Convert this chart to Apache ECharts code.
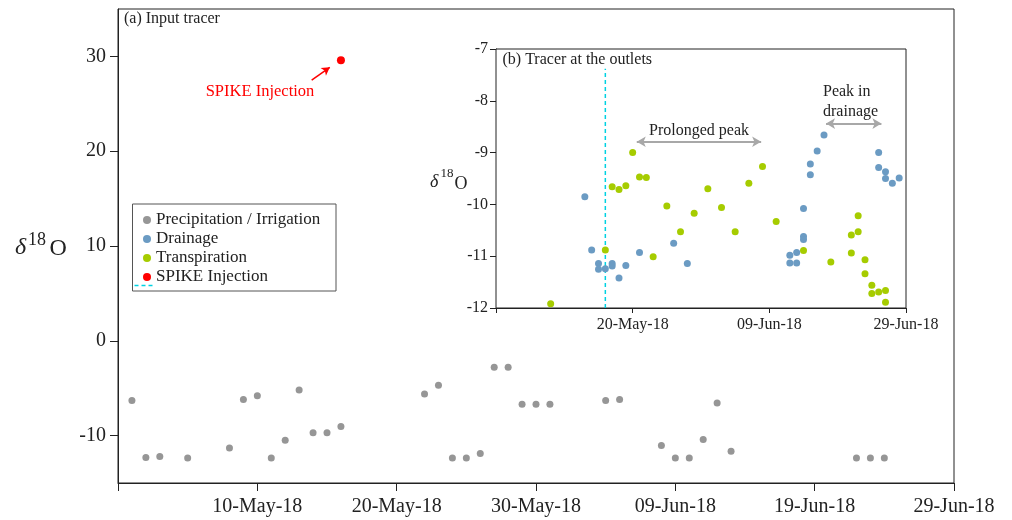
<!DOCTYPE html>
<html>
<head>
<meta charset="utf-8">
<script src="https://cdn.jsdelivr.net/npm/echarts@6/dist/echarts.min.js"></script>
<style>
  html, body { margin: 0; padding: 0; background: #fff; }
  #chart { width: 1012px; height: 520px; }
</style>
</head>
<body>
<div id="chart"></div>
<script>
// Day zero of both time axes
const startDate = '2018-04-30';

// Input tracer: precipitation / irrigation samples (delta 18O, permil)
const precipDates = [
  '2018-05-01','2018-05-02','2018-05-03','2018-05-05','2018-05-08','2018-05-09','2018-05-10',
  '2018-05-11','2018-05-12','2018-05-13','2018-05-14','2018-05-15','2018-05-16','2018-05-22',
  '2018-05-23','2018-05-24','2018-05-25','2018-05-26','2018-05-27','2018-05-28','2018-05-29',
  '2018-05-30','2018-05-31','2018-06-04','2018-06-05','2018-06-08','2018-06-09','2018-06-10',
  '2018-06-11','2018-06-12','2018-06-13','2018-06-22','2018-06-23','2018-06-24'
];
const precipValues = [
  -6.3, -12.3, -12.2, -12.35, -11.3, -6.2, -5.8,
  -12.35, -10.5, -5.2, -9.7, -9.7, -9.05, -5.6,
  -4.7, -12.35, -12.35, -11.9, -2.8, -2.8, -6.7,
  -6.7, -6.7, -6.3, -6.2, -11.05, -12.35, -12.35,
  -10.4, -6.55, -11.65, -12.35, -12.35, -12.35
];

// Labelled spike
const spikeDates = ['2018-05-16'];
const spikeValues = [29.6];

// Outlet tracer: drainage
const drainageDates = [
  '2018-05-13','2018-05-14','2018-05-15','2018-05-15','2018-05-16','2018-05-17','2018-05-17',
  '2018-05-18','2018-05-19','2018-05-21','2018-05-26','2018-05-28','2018-06-12','2018-06-12',
  '2018-06-13','2018-06-13','2018-06-14','2018-06-14','2018-06-14','2018-06-15','2018-06-15',
  '2018-06-16','2018-06-17','2018-06-25','2018-06-25','2018-06-26','2018-06-26','2018-06-27',
  '2018-06-28'
];
const drainageValues = [
  -9.85, -10.88, -11.14, -11.25, -11.24, -11.14, -11.19,
  -11.42, -11.18, -10.93, -10.75, -11.14, -10.98, -11.13,
  -10.93, -11.13, -10.08, -10.62, -10.68, -9.22, -9.43,
  -8.97, -8.66, -9.0, -9.29, -9.37, -9.5, -9.59,
  -9.49
];

// Outlet tracer: transpiration
const transpDates = [
  '2018-05-08','2018-05-16','2018-05-17','2018-05-18','2018-05-19','2018-05-20','2018-05-21',
  '2018-05-22','2018-05-23','2018-05-25','2018-05-27','2018-05-29','2018-05-31','2018-06-02',
  '2018-06-04','2018-06-06','2018-06-08','2018-06-10','2018-06-14','2018-06-18','2018-06-21',
  '2018-06-21','2018-06-22','2018-06-22','2018-06-23','2018-06-23','2018-06-24','2018-06-24',
  '2018-06-25','2018-06-26','2018-06-26'
];
const transpValues = [
  -11.92, -10.88, -9.66, -9.71, -9.64, -9.0, -9.47,
  -9.48, -11.01, -10.03, -10.53, -10.17, -9.7, -10.06,
  -10.53, -9.59, -9.27, -10.33, -10.89, -11.11, -10.59,
  -10.94, -10.22, -10.53, -11.07, -11.34, -11.56, -11.72,
  -11.69, -11.66, -11.89
];

// Axis settings
const dayRange = [0, 60];
const mainTickDays = 10;
const insetTickDays = 20;
const mainYTicks = [-10, 0, 10, 20, 30];
const mainYRange = [-15, 35];
const insetYRange = [-12, -7];
const monthNames = ['Jan','Feb','Mar','Apr','May','Jun','Jul','Aug','Sep','Oct','Nov','Dec'];

const legendNames = ['Precipitation / Irrigation', 'Drainage', 'Transpiration', 'SPIKE Injection'];

const FONT = '"Liberation Serif", "Times New Roman", serif';
const INK = '#222';
const CYAN = '#00d2e2';
const DAY_MS = 86400000;
const t0 = Date.parse(startDate + 'T00:00:00Z');

function dayOf(s) { return (Date.parse(s + 'T00:00:00Z') - t0) / DAY_MS; }
function pairs(dates, values) { return dates.map((d, i) => [dayOf(d), values[i]]); }
function dateLabel(v) {
  if (v === 0) return '';
  const d = new Date(t0 + v * DAY_MS);
  const dd = String(d.getUTCDate()).padStart(2, '0');
  return dd + '-' + monthNames[d.getUTCMonth()] + '-' + String(d.getUTCFullYear()).slice(2);
}

const spikeDay = dayOf(spikeDates[0]);

const chart = echarts.init(document.getElementById('chart'), null, { renderer: 'canvas' });

const axisLine = { show: true, onZero: false, lineStyle: { color: INK, width: 1 } };

const option = {
  animation: false,
  backgroundColor: '#fff',
  grid: [
    { left: 118, top: 9, width: 836, height: 474, show: true, borderColor: INK, borderWidth: 1,
      backgroundColor: 'transparent', outerBoundsMode: 'none', containLabel: false },
    { left: 496, top: 49, width: 410, height: 259, show: true, borderColor: INK, borderWidth: 1,
      backgroundColor: '#fff', outerBoundsMode: 'none', containLabel: false, z: 5 }
  ],
  xAxis: [
    { type: 'value', gridIndex: 0, min: dayRange[0], max: dayRange[1], interval: mainTickDays,
      axisLine, splitLine: { show: false },
      axisTick: { show: true, length: 8, lineStyle: { color: INK } },
      axisLabel: { margin: 14, fontFamily: FONT, fontSize: 20, color: INK, formatter: dateLabel,
                   showMinLabel: true, showMaxLabel: true } },
    { type: 'value', gridIndex: 1, min: dayRange[0], max: dayRange[1], interval: insetTickDays,
      axisLine, splitLine: { show: false },
      axisTick: { show: true, length: 5, lineStyle: { color: INK } },
      axisLabel: { margin: 9, fontFamily: FONT, fontSize: 16, color: INK, formatter: dateLabel,
                   showMinLabel: true, showMaxLabel: true } }
  ],
  yAxis: [
    { type: 'value', gridIndex: 0, min: mainYRange[0], max: mainYRange[1],
      axisLine, splitLine: { show: false },
      axisTick: { show: true, length: 8, lineStyle: { color: INK }, customValues: mainYTicks },
      axisLabel: { margin: 12, fontFamily: FONT, fontSize: 20, color: INK, customValues: mainYTicks } },
    { type: 'value', gridIndex: 1, min: insetYRange[0], max: insetYRange[1], interval: 1,
      axisLine, splitLine: { show: false },
      axisTick: { show: true, length: 6, lineStyle: { color: INK } },
      axisLabel: { margin: 8, fontFamily: FONT, fontSize: 16, color: INK,
                   showMinLabel: true, showMaxLabel: true } }
  ],
  legend: {
    data: legendNames,
    orient: 'vertical',
    left: 143, top: 211.5,
    padding: 0,
    itemWidth: 8, itemHeight: 8, itemGap: 2,
    icon: 'circle',
    selectedMode: false,
    textStyle: { fontFamily: FONT, fontSize: 17, lineHeight: 16, color: INK },
    z: 20
  },
  series: [
    { name: 'Precipitation / Irrigation', type: 'scatter', xAxisIndex: 0, yAxisIndex: 0,
      symbolSize: 7, itemStyle: { color: '#969696', opacity: 1 }, emphasis: { disabled: true },
      data: pairs(precipDates, precipValues) },
    { name: 'SPIKE Injection', type: 'scatter', xAxisIndex: 0, yAxisIndex: 0,
      symbolSize: 8, itemStyle: { color: '#ff0000', opacity: 1 }, emphasis: { disabled: true },
      data: pairs(spikeDates, spikeValues),
      markLine: {
        silent: true, symbol: ['none', 'arrow'], symbolSize: [7, 8], animation: false,
        lineStyle: { color: '#ff0000', width: 1.5, type: 'solid' }, label: { show: false },
        emphasis: { disabled: true },
        data: [[{ coord: [13.9, 27.5] }, { coord: [15.2, 28.85] }]]
      } },
    { name: 'Drainage', type: 'scatter', xAxisIndex: 1, yAxisIndex: 1, z: 6,
      symbolSize: 7, itemStyle: { color: '#6b9bc3', opacity: 1 }, emphasis: { disabled: true },
      data: pairs(drainageDates, drainageValues),
      markLine: {
        silent: true, symbol: ['arrow', 'arrow'], symbolSize: [8, 9], animation: false,
        lineStyle: { color: '#a8a8a8', width: 2, type: 'solid' }, label: { show: false },
        emphasis: { disabled: true },
        data: [
          [{ coord: [20.6, -8.79] }, { coord: [38.8, -8.79] }],
          [{ coord: [48.3, -8.44] }, { coord: [56.4, -8.44] }]
        ]
      } },
    { name: 'Transpiration', type: 'scatter', xAxisIndex: 1, yAxisIndex: 1, z: 6,
      symbolSize: 7, itemStyle: { color: '#a6cc00', opacity: 1 }, emphasis: { disabled: true },
      data: pairs(transpDates, transpValues) },
    { name: 'spike-date', type: 'line', xAxisIndex: 1, yAxisIndex: 1, z: 5,
      symbol: 'none', silent: true,
      lineStyle: { color: CYAN, width: 1.5, type: [4, 3] },
      data: [[spikeDay, insetYRange[0]], [spikeDay, -7.38]] }
  ],
  graphic: [
    // legend frame and dashed key for the spike date
    { type: 'rect', z: 15, shape: { x: 132.5, y: 204, width: 203.5, height: 87 },
      style: { fill: '#fff', stroke: '#555', lineWidth: 1 } },
    { type: 'line', z: 21, shape: { x1: 134.5, y1: 285.5, x2: 153, y2: 285.5 },
      style: { stroke: CYAN, lineWidth: 1.5, lineDash: [4, 3] } },
    // panel titles
    { type: 'text', z: 30, x: 124, y: 19,
      style: { text: '(a) Input tracer', font: '16px ' + FONT, fill: INK, verticalAlign: 'middle' } },
    { type: 'text', z: 30, x: 502.5, y: 60,
      style: { text: '(b) Tracer at the outlets', font: '16px ' + FONT, fill: INK, verticalAlign: 'middle' } },
    // annotations
    { type: 'text', z: 30, x: 260, y: 92,
      style: { text: 'SPIKE Injection', font: '16.5px ' + FONT, fill: '#ff0000', align: 'center', verticalAlign: 'middle' } },
    { type: 'text', z: 30, x: 699, y: 130.5,
      style: { text: 'Prolonged peak', font: '16px ' + FONT, fill: INK, align: 'center', verticalAlign: 'middle' } },
    { type: 'text', z: 30, x: 823, y: 92,
      style: { text: 'Peak in', font: '16px ' + FONT, fill: INK, verticalAlign: 'middle' } },
    { type: 'text', z: 30, x: 823, y: 111.5,
      style: { text: 'drainage', font: '16px ' + FONT, fill: INK, verticalAlign: 'middle' } },
    // main y-axis title
    { type: 'text', z: 30, x: 15, y: 248,
      style: { text: 'δ', font: 'italic 24px ' + FONT, fill: INK, verticalAlign: 'middle' } },
    { type: 'text', z: 30, x: 28, y: 240,
      style: { text: '18', font: '18px ' + FONT, fill: INK, verticalAlign: 'middle' } },
    { type: 'text', z: 30, x: 49.5, y: 248.5,
      style: { text: 'O', font: '24px ' + FONT, fill: INK, verticalAlign: 'middle' } },
    // inset y-axis title
    { type: 'text', z: 30, x: 430, y: 182,
      style: { text: 'δ', font: 'italic 18px ' + FONT, fill: INK, verticalAlign: 'middle' } },
    { type: 'text', z: 30, x: 440.5, y: 174,
      style: { text: '18', font: '13px ' + FONT, fill: INK, verticalAlign: 'middle' } },
    { type: 'text', z: 30, x: 454.5, y: 184,
      style: { text: 'O', font: '18px ' + FONT, fill: INK, verticalAlign: 'middle' } }
  ]
};

chart.setOption(option);
</script>
</body>
</html>
